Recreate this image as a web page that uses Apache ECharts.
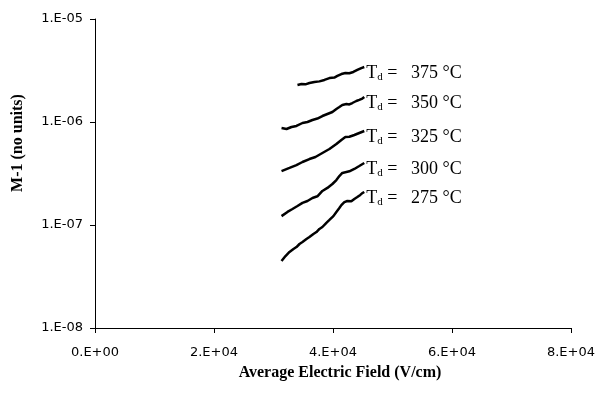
<!DOCTYPE html>
<html>
<head>
<meta charset="utf-8">
<script src="https://cdn.jsdelivr.net/npm/echarts@6/dist/echarts.min.js"></script>
<style>
html,body{margin:0;padding:0;background:#fff;}
#chart{width:598px;height:396px;}
</style>
</head>
<body>
<div id="chart"></div>
<script>
const xTickLabels = ['0.E+00','2.E+04','4.E+04','6.E+04','8.E+04'];
const xTickValues = [0,20000,40000,60000,80000];
const yTickLabels = ['1.E-08','1.E-07','1.E-06','1.E-05'];
const yTickValues = [1e-8,1e-7,1e-6,1e-5];

const seriesNames = ['375 °C','350 °C','325 °C','300 °C','275 °C'];

const x375 = [34030,34700,35370,36040,36880,37720,38560,39400,40230,40740,41410,42080,42750,43420,44090,44760,45260];
const y375 = [2.29e-6,2.34e-6,2.32e-6,2.39e-6,2.45e-6,2.48e-6,2.56e-6,2.67e-6,2.70e-6,2.80e-6,2.92e-6,2.99e-6,2.97e-6,3.06e-6,3.20e-6,3.34e-6,3.42e-6];

const x350 = [31350,32190,33030,33860,34870,35710,36550,37380,38220,39060,39900,40570,41070,41570,42250,42750,43250,43920,44420,44930,45260];
const y350 = [8.74e-7,8.55e-7,8.94e-7,9.15e-7,9.78e-7,1.00e-6,1.045e-6,1.080e-6,1.143e-6,1.196e-6,1.251e-6,1.337e-6,1.398e-6,1.462e-6,1.495e-6,1.480e-6,1.529e-6,1.599e-6,1.640e-6,1.690e-6,1.749e-6];

const x325 = [31350,32690,33860,34870,36040,37050,38220,39400,40570,41410,42080,42750,43590,44420,45260];
const y325 = [3.34e-7,3.58e-7,3.82e-7,4.09e-7,4.37e-7,4.57e-7,5.00e-7,5.47e-7,6.11e-7,6.69e-7,7.15e-7,7.20e-7,7.48e-7,7.82e-7,8.18e-7];

const x300 = [31350,32350,33190,34030,34870,35710,36550,37380,38220,39060,39900,40570,41070,41570,42250,42750,43590,44420,45260];
const y300 = [1.22e-7,1.34e-7,1.43e-7,1.53e-7,1.64e-7,1.71e-7,1.83e-7,1.90e-7,2.14e-7,2.29e-7,2.50e-7,2.73e-7,2.99e-7,3.20e-7,3.27e-7,3.32e-7,3.50e-7,3.74e-7,4.00e-7];

const x275 = [31350,32020,32690,33360,33860,34370,34870,35540,36040,36710,37220,37720,38220,38890,39400,40070,40570,41070,41410,41910,42410,43080,43590,44090,44590,44930,45260];
const y275 = [4.47e-8,5.00e-8,5.47e-8,5.85e-8,6.11e-8,6.54e-8,6.84e-8,7.31e-8,7.65e-8,8.18e-8,8.55e-8,9.15e-8,9.56e-8,1.05e-7,1.12e-7,1.22e-7,1.34e-7,1.46e-7,1.56e-7,1.67e-7,1.71e-7,1.70e-7,1.79e-7,1.87e-7,1.96e-7,2.04e-7,2.09e-7];

const xs = [x375,x350,x325,x300,x275];
const ys = [y375,y350,y325,y300,y275];

function pair(xa, ya){ return xa.map((v,i)=>[v, ya[i]]); }

const serif = '"Liberation Serif","Times New Roman",serif';
const sans = '"DejaVu Sans",sans-serif';

const series = seriesNames.map((name, k) => ({
  name: name,
  type: 'line',
  data: pair(xs[k], ys[k]),
  showSymbol: false,
  symbol: 'none',
  smooth: false,
  lineStyle: { color: '#000', width: 2.5 },
  endLabel: {
    show: true,
    distance: 2,
    offset: [0, 6],
    formatter: () => '{t|T}{s|d}{t| =   ' + name + '}',
    rich: {
      t: { fontFamily: serif, fontSize: 18, color: '#000', lineHeight: 20 },
      s: { fontFamily: serif, fontSize: 11, color: '#000', verticalAlign: 'bottom', lineHeight: 11 }
    }
  },
  animation: false
}));

const chart = echarts.init(document.getElementById('chart'), null, { renderer: 'canvas' });
chart.setOption({
  backgroundColor: '#fff',
  animation: false,
  grid: { left: 95, right: 26, top: 19, bottom: 68, containLabel: false },
  xAxis: {
    type: 'value',
    min: 0, max: 80000, interval: 20000,
    name: 'Average Electric Field (V/cm)',
    nameLocation: 'middle',
    nameGap: 37,
    nameTextStyle: { fontFamily: serif, fontWeight: 'bold', fontSize: 16, color: '#000', padding: [0,0,0,14] },
    axisLine: { lineStyle: { color: '#000', width: 1 } },
    axisTick: { show: true, inside: false, length: 5, lineStyle: { color: '#000' } },
    axisLabel: {
      fontFamily: sans, fontSize: 13, color: '#000', margin: 18,
      formatter: (v) => { const i = xTickValues.indexOf(v); return i >= 0 ? xTickLabels[i] : ''; }
    },
    splitLine: { show: false }
  },
  yAxis: {
    type: 'log', logBase: 10,
    min: 1e-8, max: 1e-5,
    axisLine: { show: true, lineStyle: { color: '#000', width: 1 } },
    axisTick: { show: true, inside: false, length: 5, lineStyle: { color: '#000' } },
    minorTick: { show: false },
    axisLabel: {
      fontFamily: sans, fontSize: 13, color: '#000', margin: 12,
      formatter: (v) => {
        let best = 0, bd = Infinity;
        yTickValues.forEach((t, i) => { const d = Math.abs(Math.log10(t) - Math.log10(v)); if (d < bd) { bd = d; best = i; } });
        return bd < 0.01 ? yTickLabels[best] : '';
      }
    },
    splitLine: { show: false }
  },
  graphic: [{
    type: 'text',
    x: 18, y: 143,
    rotation: Math.PI / 2,
    style: {
      text: 'M-1 (no units)',
      fontFamily: serif, fontWeight: 'bold', fontSize: 16, fill: '#000',
      align: 'center', verticalAlign: 'middle'
    }
  }],
  series: series
});
</script>
</body>
</html>
